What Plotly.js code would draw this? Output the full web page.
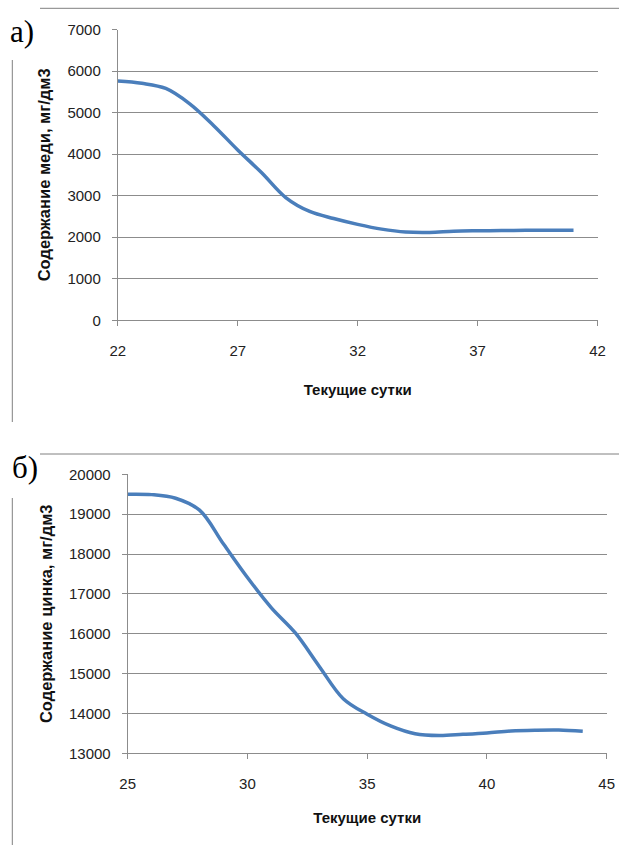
<!DOCTYPE html>
<html>
<head>
<meta charset="utf-8">
<script src="https://cdn.plot.ly/plotly-3.0.1.min.js"></script>
<style>html,body{margin:0;padding:0;background:#fff;}#chart{width:619px;height:849px;}</style>
</head>
<body>
<div id="chart"></div>
<script>
// Chart a) copper content
const daysCu = [22,23,24,25,26,27,28,29,30,31,32,33,34,35,36,37,38,39,40,41];
const copper = [5760,5705,5580,5210,4685,4100,3550,2955,2620,2450,2310,2195,2125,2115,2145,2155,2160,2165,2165,2170];
// Chart б) zinc content
const daysZn = [25,26,27,28,29,30,31,32,33,34,35,36,37,38,39,40,41,42,43,44];
const zinc = [19500,19490,19400,19100,18250,17410,16650,16020,15180,14370,13980,13680,13490,13445,13475,13510,13560,13580,13585,13555];

const xTicksCu = [22,27,32,37,42];
const xTicksZn = [25,30,35,40,45];
const yTicksCu = [0,1000,2000,3000,4000,5000,6000,7000];
const yTicksZn = [13000,14000,15000,16000,17000,18000,19000,20000];

const panelLabels = ['а)', 'б)'];
const yTitleCu = 'Содержание меди, мг/дм3';
const yTitleZn = 'Содержание цинка, мг/дм3';
const xTitle = 'Текущие сутки';

const W = 619, H = 849;
const lineColor = '#4a7ebb';
const gridColor = '#8c8c8c';
const tickFont = {family: 'Liberation Sans, Arial, sans-serif', size: 15, color: '#222'};
const xTitleFont = {family: 'Liberation Sans, Arial, sans-serif', size: 15, color: '#111', weight: 'bold'};
const yTitleFont = {family: 'Liberation Sans, Arial, sans-serif', size: 16.5, color: '#111', weight: 'bold'};

const traces = [
  {x: daysCu, y: copper, type: 'scatter', mode: 'lines', xaxis: 'x', yaxis: 'y',
   line: {color: lineColor, width: 3.5, shape: 'spline', smoothing: 1}, showlegend: false, hoverinfo: 'skip'},
  {x: daysZn, y: zinc, type: 'scatter', mode: 'lines', xaxis: 'x2', yaxis: 'y2',
   line: {color: lineColor, width: 3.5, shape: 'spline', smoothing: 1}, showlegend: false, hoverinfo: 'skip'}
];

function xAx(domain, ticks, anchor, standoff) {
  return {domain: domain, anchor: anchor, range: [ticks[0], ticks[ticks.length-1]],
    tickmode: 'array', tickvals: ticks, ticktext: ticks.map(String),
    showgrid: false, zeroline: false, showline: true, linecolor: gridColor, linewidth: 1,
    ticks: 'outside', ticklen: 5, tickcolor: gridColor, tickfont: tickFont, ticklabelstandoff: 12,
    title: {text: xTitle, font: xTitleFont, standoff: standoff}, fixedrange: true};
}
function yAx(domain, ticks, anchor, text) {
  return {domain: domain, anchor: anchor, range: [ticks[0], ticks[ticks.length-1]],
    tickmode: 'array', tickvals: ticks, ticktext: ticks.map(String),
    showgrid: true, gridcolor: gridColor, gridwidth: 1, zeroline: false,
    showline: true, linecolor: gridColor, linewidth: 1,
    ticks: 'outside', ticklen: 5, tickcolor: gridColor, tickfont: tickFont, ticklabelstandoff: 8,
    title: {text: text, font: yTitleFont, standoff: 12}, fixedrange: true};
}

const layout = {
  width: W, height: H,
  margin: {l: 0, r: 0, t: 0, b: 0, autoexpand: false},
  paper_bgcolor: '#fff', plot_bgcolor: '#fff',
  showlegend: false,
  xaxis: xAx([117.8/W, 597.5/W], xTicksCu, 'y', 26),
  yaxis: yAx([1 - 320.3/H, 1 - 29.5/H], yTicksCu, 'x', yTitleCu),
  xaxis2: xAx([127.7/W, 606.7/W], xTicksZn, 'y2', 21),
  yaxis2: yAx([1 - 753.3/H, 1 - 474.3/H], yTicksZn, 'x2', yTitleZn),
  annotations: [
    {text: panelLabels[0], xref: 'paper', yref: 'paper', x: 8/W, y: 1 - 31/H, xanchor: 'left', yanchor: 'middle',
     showarrow: false, font: {family: 'Liberation Serif, Times New Roman, serif', size: 31, color: '#000'}},
    {text: panelLabels[1], xref: 'paper', yref: 'paper', x: 10/W, y: 1 - 467/H, xanchor: 'left', yanchor: 'middle',
     showarrow: false, font: {family: 'Liberation Serif, Times New Roman, serif', size: 31, color: '#000'}}
  ],
  shapes: [
    {type: 'line', xref: 'paper', yref: 'paper', x0: 40/W, x1: 1, y0: 1 - 8.3/H, y1: 1 - 8.3/H, line: {color: '#808080', width: 1}},
    {type: 'line', xref: 'paper', yref: 'paper', x0: 12.3/W, x1: 12.3/W, y0: 1 - 60/H, y1: 1 - 422/H, line: {color: '#808080', width: 1}},
    {type: 'line', xref: 'paper', yref: 'paper', x0: 40/W, x1: 1, y0: 1 - 454/H, y1: 1 - 454/H, line: {color: '#808080', width: 1}},
    {type: 'line', xref: 'paper', yref: 'paper', x0: 12.3/W, x1: 12.3/W, y0: 1 - 498/H, y1: 1 - 845/H, line: {color: '#808080', width: 1}}
  ]
};

Plotly.newPlot('chart', traces, layout, {displayModeBar: false, staticPlot: true});
</script>
</body>
</html>
